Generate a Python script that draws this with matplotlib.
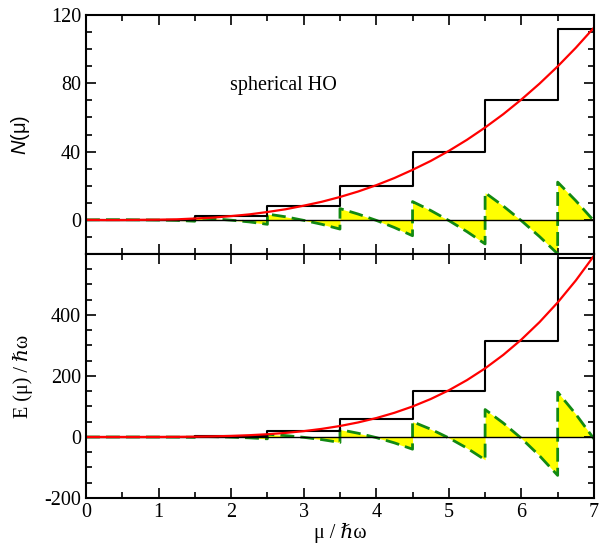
import numpy as np
import matplotlib
matplotlib.use("Agg")
import matplotlib.pyplot as plt
from matplotlib.ticker import MultipleLocator

plt.rcParams['font.family'] = ['Liberation Serif', 'DejaVu Serif']
plt.rcParams['mathtext.fontset'] = 'custom'
plt.rcParams['mathtext.it'] = 'Liberation Sans:italic'
plt.rcParams['mathtext.rm'] = 'Liberation Sans'
plt.rcParams['axes.unicode_minus'] = False

# shell energies (mu / hbar omega) and cumulative counts
shells = [1.5, 2.5, 3.5, 4.5, 5.5, 6.5]
n_stair = [2, 8, 20, 40, 70, 112]
e_stair = [3, 18, 60, 150, 315, 588]

# smooth (red) curves
mu = [0, 0.25, 0.5, 0.75, 1.0, 1.25, 1.5, 1.75, 2.0, 2.25, 2.5, 2.75, 3.0,
      3.25, 3.5, 3.75, 4.0, 4.25, 4.5, 4.75, 5.0, 5.25, 5.5, 5.75, 6.0,
      6.25, 6.5, 6.75, 7.0]
n_smooth = [0, -0.1, -0.1, 0.0, 0.1, 0.3, 0.8, 1.3, 2.2, 3.2, 4.6, 6.2, 8.3,
            10.6, 13.4, 16.6, 20.3, 24.5, 29.3, 34.5, 40.4, 46.9, 54.1, 61.9,
            70.5, 79.8, 89.9, 100.8, 112.6]
e_smooth = [0, 0, 0, 0, 0.1, 0.4, 1.0, 2.0, 3.5, 5.8, 9.0, 13.4, 19.1,
            26.6, 36.0, 47.7, 62.0, 79.3, 100.0, 124.4, 153.1, 186.5, 225.0,
            269.1, 319.5, 376.6, 441.0, 513.2, 594.1]

mu = np.array(mu)
sh = np.array(shells)


def stair_at(x, vals, side):
    idx = np.searchsorted(sh, x, side=side)
    return np.concatenate([[0], vals])[idx]


# oscillating part = staircase - smooth, with both sides of every jump
xo, io = [], []
for i, x in enumerate(mu):
    if x in shells:
        xo += [x, x]
        io += [(i, 'left'), (i, 'right')]
    else:
        xo.append(x)
        io.append((i, 'right'))
xo = np.array(xo)


def osc(vals, smooth):
    return np.array([stair_at(mu[i], vals, s) - smooth[i] for i, s in io])


fs = 14.5
fig = plt.figure(figsize=(6.03, 5.44), dpi=100)
ax1 = fig.add_axes([0.1426, 0.5331, 0.8424, 0.4393])
ax2 = fig.add_axes([0.1426, 0.0846, 0.8424, 0.4485])

for ax, vals, smooth, ylim, maj, mnr in [
        (ax1, n_stair, n_smooth, (-20, 120), 40, 10),
        (ax2, e_stair, e_smooth, (-200, 600), 200, 50)]:
    d = osc(vals, smooth)
    ax.fill_between(xo, d, 0, color='yellow', lw=0)
    ax.plot(xo, d, color='#128a12', lw=2.0, dashes=(5, 2.2))
    ax.axhline(0, color='black', lw=1.0)
    ax.step([0] + shells + [7], [0] + vals + [vals[-1]], where='post',
            color='black', lw=1.5)
    ax.plot(mu, smooth, color='red', lw=1.6)
    ax.set_xlim(0, 7)
    ax.set_ylim(*ylim)
    ax.xaxis.set_major_locator(MultipleLocator(1))
    ax.xaxis.set_minor_locator(MultipleLocator(0.5))
    ax.yaxis.set_major_locator(MultipleLocator(maj))
    ax.yaxis.set_minor_locator(MultipleLocator(mnr))
    ax.tick_params(which='both', direction='in', top=True, right=True,
                   labelsize=fs, width=1.2)
    ax.tick_params(which='major', length=7)
    ax.tick_params(which='minor', length=4)
    for s in ax.spines.values():
        s.set_linewidth(1.5)

ax1.tick_params(labelbottom=False)
ax2.set_yticks([-200, 0, 200, 400])
ax1.text(1.98, 79, 'spherical HO', fontsize=fs, va='center', ha='left')

ax1.set_ylabel(r'$N$(μ)', family='Liberation Sans', fontsize=fs)
ax1.yaxis.set_label_coords(-0.107, 0.5)
ax2.set_ylabel('E (μ) / ℏω', fontsize=fs)
ax2.yaxis.set_label_coords(-0.104, 0.5)
ax2.set_xlabel('μ / ℏω', fontsize=fs, labelpad=1)

fig.savefig('out.png', dpi=100)
